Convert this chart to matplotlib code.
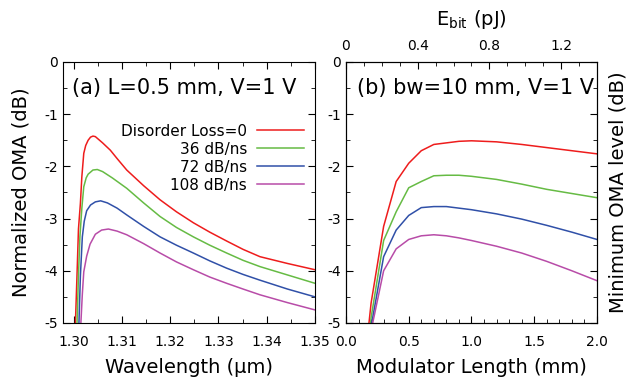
import matplotlib
matplotlib.use("Agg")
import matplotlib.pyplot as plt
from matplotlib.ticker import MultipleLocator

plt.rcParams["axes.unicode_minus"] = False
plt.rcParams["font.family"] = "DejaVu Sans"

labels = ["Disorder Loss=0", "36 dB/ns", "72 dB/ns", "108 dB/ns"]
colors = ["#ee1c1c", "#66bb44", "#3050a8", "#b84ca8"]

# (a) normalized OMA vs wavelength
wl_red = [1.30037, 1.30055, 1.30072, 1.3010, 1.3014, 1.3017, 1.3021, 1.3025, 1.3030, 1.3035, 1.3040,
          1.3045, 1.3050, 1.3060, 1.3076, 1.3090, 1.3110, 1.3145, 1.3179, 1.3213, 1.3248, 1.3282,
          1.3317, 1.3351, 1.3386, 1.3443, 1.3500]
oma_red = [-5.0, -4.5, -4.02, -3.2, -2.71, -2.2, -1.75, -1.60, -1.50, -1.44, -1.42,
           -1.43, -1.47, -1.55, -1.69, -1.85, -2.07, -2.37, -2.64, -2.87, -3.08, -3.26,
           -3.43, -3.59, -3.73, -3.86, -3.98]
wl_green = [1.3007, 1.3010, 1.3013, 1.3017, 1.3021, 1.3026, 1.3030, 1.3040, 1.3049, 1.3060, 1.3080,
            1.3110, 1.3145, 1.3179, 1.3213, 1.3248, 1.3282, 1.3317, 1.3351, 1.3386, 1.3443, 1.3500]
oma_green = [-5.0, -4.1, -3.35, -2.8, -2.39, -2.22, -2.15, -2.07, -2.06, -2.10, -2.22,
             -2.42, -2.70, -2.96, -3.17, -3.35, -3.51, -3.66, -3.80, -3.92, -4.08, -4.24]
wl_blue = [1.3011, 1.3014, 1.3018, 1.3022, 1.3027, 1.3035, 1.3045, 1.3056, 1.3070, 1.3090,
           1.3110, 1.3145, 1.3179, 1.3213, 1.3248, 1.3282, 1.3317, 1.3351, 1.3386, 1.3443, 1.3500]
oma_blue = [-5.0, -4.1, -3.35, -3.05, -2.85, -2.74, -2.68, -2.66, -2.70, -2.80,
            -2.93, -3.15, -3.35, -3.51, -3.66, -3.81, -3.95, -4.07, -4.18, -4.35, -4.50]
wl_mag = [1.3015, 1.3018, 1.3021, 1.3027, 1.3034, 1.3045, 1.3058, 1.3072, 1.3090,
          1.3110, 1.3145, 1.3179, 1.3213, 1.3248, 1.3282, 1.3317, 1.3351, 1.3386, 1.3443, 1.3500]
oma_mag = [-5.0, -4.45, -4.02, -3.72, -3.49, -3.30, -3.22, -3.20, -3.24,
           -3.31, -3.48, -3.66, -3.83, -3.98, -4.12, -4.24, -4.35, -4.46, -4.61, -4.75]

# (b) minimum OMA level vs modulator length
length = [0.1, 0.2, 0.3, 0.4, 0.5, 0.6, 0.7, 0.8, 0.9, 1.0, 1.2, 1.4, 1.6, 1.8, 2.0]
min_red = [-6.9, -4.62, -3.15, -2.29, -1.94, -1.70, -1.58, -1.55, -1.52, -1.51, -1.53, -1.58, -1.64, -1.70, -1.76]
min_green = [-8.0, -4.90, -3.42, -2.87, -2.41, -2.29, -2.18, -2.17, -2.17, -2.19, -2.25, -2.34, -2.44, -2.52, -2.60]
min_blue = [-9.0, -5.07, -3.73, -3.22, -2.94, -2.79, -2.77, -2.77, -2.80, -2.83, -2.91, -3.01, -3.13, -3.26, -3.40]
min_mag = [-10.0, -5.15, -4.00, -3.58, -3.40, -3.33, -3.31, -3.33, -3.37, -3.42, -3.53, -3.66, -3.82, -4.00, -4.19]

fig = plt.figure(figsize=(6.27, 3.83), dpi=100)
ax1 = fig.add_axes([0.1005, 0.1567, 0.4019, 0.6815])
ax2 = fig.add_axes([0.5518, 0.1567, 0.4003, 0.6815])

for wl, oma, c, lab in zip([wl_red, wl_green, wl_blue, wl_mag],
                           [oma_red, oma_green, oma_blue, oma_mag], colors, labels):
    ax1.plot(wl, oma, color=c, lw=1.1, label=lab)
for y, c in zip([min_red, min_green, min_blue, min_mag], colors):
    ax2.plot(length, y, color=c, lw=1.1)

ax1.set_xlim(1.2978, 1.35)
ax1.set_ylim(-5, 0)
ax1.xaxis.set_minor_locator(MultipleLocator(0.005))
ax1.set_xticks([1.30, 1.31, 1.32, 1.33, 1.34, 1.35])
ax1.set_xticklabels(["1.30", "1.31", "1.32", "1.33", "1.34", "1.35"])
ax1.set_xlabel("Wavelength (µm)", fontsize=14, labelpad=6.5)
ax1.set_ylabel("Normalized OMA (dB)", fontsize=14, labelpad=10)
ax1.text(0.035, 0.9, "(a) L=0.5 mm, V=1 V", transform=ax1.transAxes, fontsize=15, va="center")
ax1.legend(loc="upper right", bbox_to_anchor=(1.0, 0.805), frameon=False, markerfirst=False,
           fontsize=11, handlelength=3.1, handletextpad=0.65, labelspacing=0.2, borderpad=0.2)

ax2.set_xlim(0, 2)
ax2.set_ylim(-5, 0)
ax2.xaxis.set_major_locator(MultipleLocator(0.5))
ax2.xaxis.set_minor_locator(MultipleLocator(0.1))
ax2.set_xlabel("Modulator Length (mm)", fontsize=14, labelpad=6.5)
ax2.text(0.045, 0.9, "(b) bw=10 mm, V=1 V", transform=ax2.transAxes, fontsize=15, va="center")
ax2.text(1.085, 0.5, "Minimum OMA level (dB)", transform=ax2.transAxes, fontsize=14,
         rotation=90, va="center", ha="center")

for ax in (ax1, ax2):
    ax.yaxis.set_major_locator(MultipleLocator(1))
    ax.yaxis.set_minor_locator(MultipleLocator(0.5))
    ax.tick_params(which="both", direction="in", right=True, labelsize=10)
    ax.tick_params(axis="x", which="both", pad=8.5)
    ax.tick_params(which="major", length=5)
    ax.tick_params(which="minor", length=3)
ax1.tick_params(which="both", top=True)

top = ax2.twiny()
top.set_xlim(0, 1.4)
top.xaxis.set_minor_locator(MultipleLocator(0.1))
top.set_xticks([0, 0.4, 0.8, 1.2])
top.set_xticklabels(["0", "0.4", "0.8", "1.2"])
top.tick_params(which="both", direction="in", labelsize=10, pad=6.5)
top.tick_params(which="major", length=5)
top.tick_params(which="minor", length=3)
top.set_xlabel("E$_\\mathrm{bit}$ (pJ)", fontsize=14, labelpad=10)

fig.savefig("out.png", dpi=100)
